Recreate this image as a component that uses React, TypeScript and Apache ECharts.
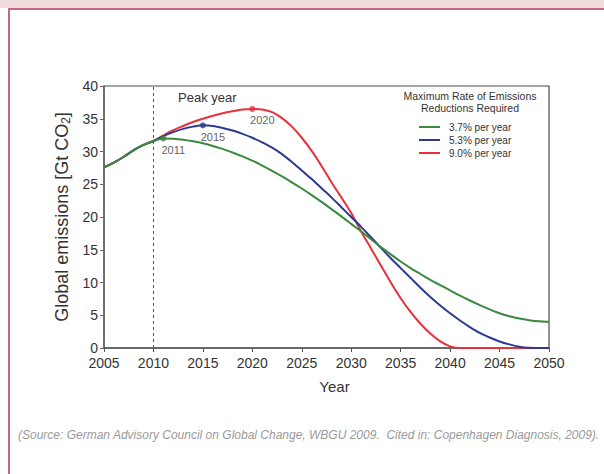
import React, { useEffect, useRef } from "react";
import * as echarts from "echarts";

const years: number[] = [];
for (let y = 2005; y <= 2050; y++) years.push(y);

// 2005..2050
const green37 = [
  27.6, 28.3, 29.2, 30.2, 31.0, 31.6,
  32.0, 31.95, 31.8, 31.55, 31.25, 30.85, 30.4, 29.85, 29.25, 28.6,
  27.85, 27.05, 26.2, 25.3, 24.35, 23.35, 22.3, 21.2, 20.1, 18.95,
  17.8, 16.6, 15.4, 14.3, 13.2, 12.2, 11.3, 10.4, 9.6, 8.8,
  8.0, 7.25, 6.55, 5.9, 5.3, 4.85, 4.5, 4.25, 4.08, 4.0,
];
const blue53 = [
  27.6, 28.3, 29.2, 30.2, 31.0, 31.6,
  32.35, 32.95, 33.45, 33.8, 34.0, 33.9, 33.6, 33.2, 32.7, 32.1,
  31.4, 30.6, 29.6, 28.4, 27.1, 25.8, 24.4, 23.0, 21.5, 20.0,
  18.5, 16.9, 15.3, 13.7, 12.2, 10.7, 9.2, 7.8, 6.5, 5.3,
  4.2, 3.2, 2.3, 1.6, 1.0, 0.55, 0.2, 0.03, 0, 0,
];
const red90 = [
  27.6, 28.3, 29.2, 30.2, 31.0, 31.6,
  32.45, 33.25, 33.9, 34.5, 35.0, 35.45, 35.85, 36.15, 36.4, 36.5,
  36.4, 36.0, 35.1, 33.8, 32.1, 30.1, 27.8, 25.3, 23.0, 20.6,
  17.8, 15.2, 12.6, 10.0, 7.6, 5.5, 3.7, 2.2, 1.0, 0.25,
  0, 0, 0, 0, 0, 0, 0, 0, 0, 0,
];

const seriesNames = ["3.7% per year", "5.3% per year", "9.0% per year"];
const seriesColors = ["#3a8a3f", "#2c3a92", "#ea3038"];
const peakYears = [2011, 2015, 2020];
const peakValues = [32.0, 34.0, 36.5];

const xTicks = { min: 2005, max: 2050, interval: 5 };
const yTicks = { min: 0, max: 40, interval: 5 };

const FONT = "Liberation Sans, Arial, Helvetica, sans-serif";

export default function App() {
  const ref = useRef<HTMLDivElement>(null);
  useEffect(() => {
    if (!ref.current) return;
    const chart = echarts.init(ref.current, undefined, { renderer: "svg" });
    const toPairs = (vals: number[]) => years.map((y, i) => [y, vals[i]]);
    const allVals = [green37, blue53, red90];
    const lineSeries = seriesNames.map((name, i) => ({
      name,
      type: "line",
      data: toPairs(allVals[i]),
      smooth: 0.3,
      showSymbol: false,
      symbol: "none",
      z: 5 - i,
      lineStyle: { color: seriesColors[i], width: 2 },
      itemStyle: { color: seriesColors[i] },
      markLine:
        i === 0
          ? {
              silent: true,
              symbol: "none",
              label: { show: false },
              lineStyle: { color: "#555", type: [3, 3], width: 1 },
              data: [{ xAxis: 2010 }],
            }
          : undefined,
    }));
    const option: any = {
      animation: false,
      textStyle: { fontFamily: FONT },
      grid: {
        left: 104,
        right: 55,
        top: 86,
        bottom: 126,
        show: true,
        borderColor: "#4a4a4a",
        borderWidth: 1.2,
        backgroundColor: "transparent",
      },
      legend: {
        orient: "vertical",
        left: 414,
        top: 117,
        data: seriesNames,
        icon: "rect",
        itemWidth: 21,
        itemHeight: 2,
        itemGap: 3,
        textStyle: { fontSize: 10, color: "#333", fontFamily: FONT, padding: [0, 0, 0, 4] },
      },
      xAxis: {
        type: "value",
        min: xTicks.min,
        max: xTicks.max,
        interval: xTicks.interval,
        name: "Year",
        nameLocation: "middle",
        nameGap: 31,
        nameTextStyle: { fontSize: 15, color: "#333", fontFamily: FONT, padding: [0, 0, 0, 16] },
        axisLine: { lineStyle: { color: "#555", width: 1.5 } },
        axisTick: { show: true, length: 4, lineStyle: { color: "#555" } },
        axisLabel: {
          fontSize: 14,
          color: "#333",
          margin: 8,
          fontFamily: FONT,
          formatter: (v: number) => String(v),
        },
        splitLine: { show: false },
      },
      yAxis: {
        type: "value",
        min: yTicks.min,
        max: yTicks.max,
        interval: yTicks.interval,
        name: "Global emissions [Gt CO{sub|2}]",
        nameLocation: "middle",
        nameRotate: 90,
        nameGap: 30,
        nameTextStyle: {
          fontSize: 18,
          color: "#333",
          fontFamily: FONT,
          rich: { sub: { fontSize: 12, verticalAlign: "bottom", padding: [7, 0, 0, 0], color: "#333" } },
        },
        axisLine: { show: true, lineStyle: { color: "#666", width: 1.5 } },
        axisTick: { show: true, length: 4, lineStyle: { color: "#666" } },
        axisLabel: { fontSize: 14, color: "#333", margin: 6, fontFamily: FONT },
        splitLine: { show: false },
      },
      series: [
        ...lineSeries,
        {
          type: "scatter",
          name: "peaks",
          symbolSize: 6,
          z: 10,
          data: peakYears.map((y, i) => ({
            value: [y, peakValues[i]],
            itemStyle: { color: seriesColors[i] },
          })),
          label: {
            show: true,
            position: "bottom",
            distance: 3,
            offset: [10, 0],
            fontSize: 11,
            color: "#333",
            fontFamily: FONT,
            formatter: (p: any) => String(p.value[0]),
          },
        },
      ],
      graphic: [
        { type: "rect", left: 0, top: 0, shape: { width: 604, height: 8 }, style: { fill: "#f0dcdc" } },
        { type: "rect", left: 8, top: 8, shape: { width: 596, height: 2 }, style: { fill: "#c26a80" } },
        { type: "rect", left: 8, top: 8, shape: { width: 2, height: 466 }, style: { fill: "#c26a80" } },
        {
          type: "text",
          left: 178,
          top: 91,
          style: { text: "Peak year", fontSize: 13, fill: "#333", fontFamily: FONT },
        },
        {
          type: "text",
          x: 470,
          y: 102,
          style: {
            text: "Maximum Rate of Emissions\nReductions Required",
            fontSize: 10.5,
            lineHeight: 12,
            fill: "#333",
            align: "center",
            verticalAlign: "middle",
            fontFamily: FONT,
          },
        },
        {
          type: "text",
          left: 18,
          top: 429,
          style: {
            text: "(Source: German Advisory Council on Global Change, WBGU 2009.  Cited in: Copenhagen Diagnosis, 2009).",
            fontSize: 12,
            fontStyle: "italic",
            fill: "#9a9a9a",
            fontFamily: FONT,
          },
        },
      ],
    };
    chart.setOption(option);
    return () => chart.dispose();
  }, []);
  return (
    <div
      ref={ref}
      style={{ position: "fixed", left: 0, top: 0, width: 604, height: 474, background: "#fff" }}
    />
  );
}
